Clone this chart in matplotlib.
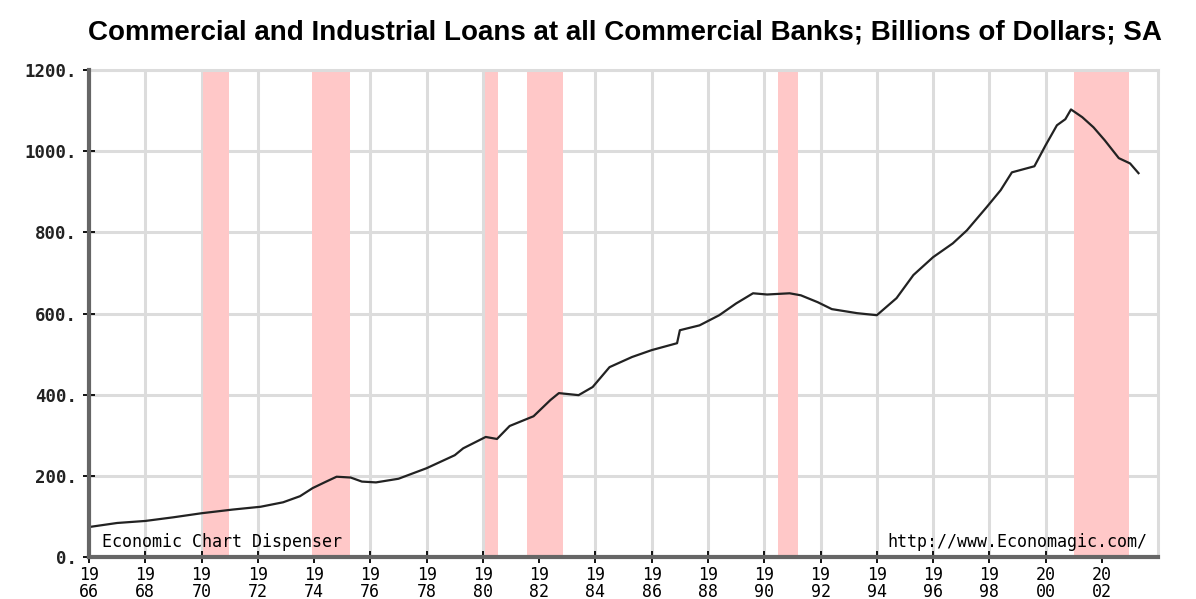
import numpy as np
import matplotlib.pyplot as plt

# C&I loans, billions of dollars
years = [1966.0, 1967.0, 1968.0, 1969.0, 1970.0, 1971.1, 1972.1, 1972.9,
         1973.5, 1973.95, 1974.4, 1974.8, 1975.3, 1975.7, 1976.2, 1977.0,
         1978.0, 1979.0, 1979.3, 1980.1, 1980.5, 1980.95, 1981.8, 1982.4,
         1982.7, 1983.4, 1983.9, 1984.5, 1985.3, 1986.0, 1986.9, 1987.0,
         1987.7, 1988.4, 1989.0, 1989.6, 1990.1, 1990.9, 1991.3, 1991.9,
         1992.4, 1993.3, 1994.0, 1994.7, 1995.3, 1996.0, 1996.7, 1997.2,
         1997.9, 1998.4, 1998.8, 1999.6, 2000.0, 2000.4, 2000.7, 2000.9,
         2001.3, 2001.7, 2002.1, 2002.6, 2003.0, 2003.3]
loans = [74, 84, 89, 98, 108, 117, 124, 135,
         150, 170, 185, 198, 196, 186, 184, 193,
         219, 251, 268, 296, 291, 323, 347, 387,
         404, 399, 419, 468, 493, 510, 527, 559,
         571, 596, 625, 650, 647, 650, 645, 628,
         611, 601, 596, 638, 695, 739, 773, 805,
         862, 904, 948, 963, 1015, 1064, 1079, 1103,
         1084, 1059, 1027, 983, 970, 946]

# recession shading (start, end)
recessions = [(1970.04, 1970.96), (1973.94, 1975.26), (1980.08, 1980.55),
              (1981.57, 1982.84), (1990.5, 1991.2), (2001.0, 2002.95)]

title = "Commercial and Industrial Loans at all Commercial Banks; Billions of Dollars; SA"
xticks = list(range(1966, 2003, 2))
yticks = list(range(0, 1201, 200))

fig = plt.figure(figsize=(11.96, 5.99), dpi=100)
ax = fig.add_axes([0.0744, 0.070, 0.894, 0.813])

ax.set_xlim(1966, 2004)
ax.set_ylim(0, 1200)

for a, b in recessions:
    ax.axvspan(a, b, color='#ffc8c8', lw=0, zorder=1)

ax.set_xticks(xticks)
ax.set_yticks(yticks)
ax.grid(True, color='#dcdcdc', lw=2.2, zorder=2)
ax.set_axisbelow(True)

ax.plot(years, loans, color='#222222', lw=1.6, zorder=4)

for s in ['top', 'right']:
    ax.spines[s].set_color('#dcdcdc')
    ax.spines[s].set_linewidth(2.2)
for s in ['left', 'bottom']:
    ax.spines[s].set_color('#666666')
    ax.spines[s].set_linewidth(3)
    ax.spines[s].set_zorder(5)

ax.set_xticklabels([f"{str(y)[:2]}\n{str(y)[2:]}" for y in xticks],
                   family='DejaVu Sans Mono', fontsize=12, linespacing=0.9)
ax.set_yticklabels([f"{v}." for v in yticks], family='DejaVu Sans Mono',
                   fontsize=12.5, fontweight='bold', color='#222222')
ax.tick_params(axis='both', direction='inout', length=9, width=1.4, color='#111111')
ax.tick_params(axis='x', pad=2)
ax.tick_params(axis='y', pad=4)

ax.text(0.012, 0.012, "Economic Chart Dispenser", transform=ax.transAxes,
        family='DejaVu Sans Mono', fontsize=12, va='bottom', ha='left', zorder=6)
ax.text(0.99, 0.012, "http://www.Economagic.com/", transform=ax.transAxes,
        family='DejaVu Sans Mono', fontsize=12, va='bottom', ha='right', zorder=6)

# the original banner runs off the right edge
fig.text(88 / 1196, 1 - 32 / 599, title, family='Liberation Sans',
         fontweight='bold', fontsize=20, va='center', ha='left')

fig.savefig('out.png', dpi=100)
